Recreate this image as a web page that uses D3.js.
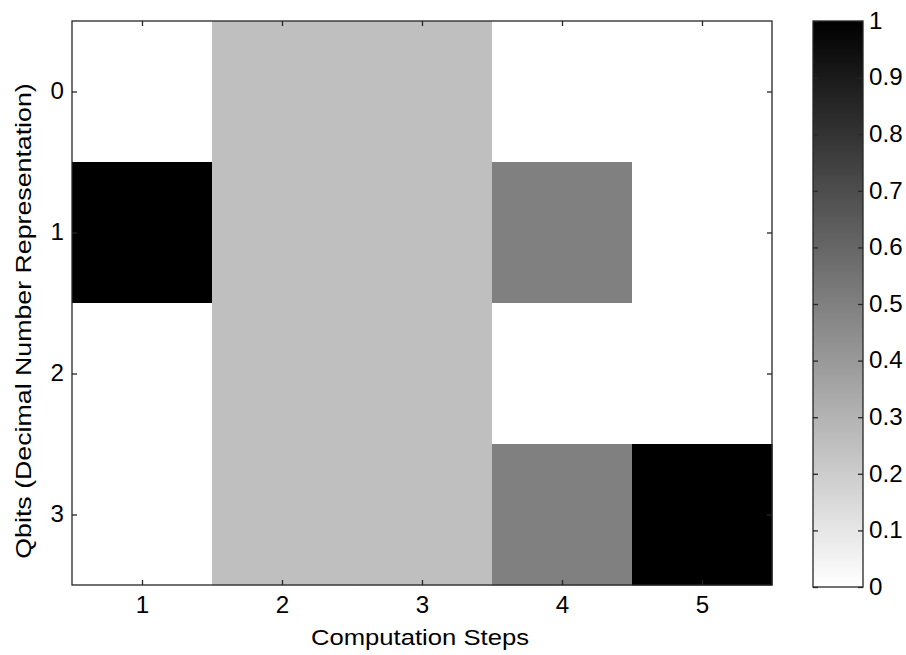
<!DOCTYPE html>
<html><head><meta charset="utf-8">
<script src="https://cdn.jsdelivr.net/npm/d3@7"></script>
<style>body{margin:0;background:#fff;} text{font-family:"Liberation Sans",Arial,sans-serif;}</style>
</head><body>
<svg id="c" width="906" height="655"></svg>
<script>
const steps = [1, 2, 3, 4, 5];
const qbits = [0, 1, 2, 3];
// values per computation step, indexed by qbit
const step1 = [0, 1, 0, 0];
const step2 = [0.25, 0.25, 0.25, 0.25];
const step3 = [0.25, 0.25, 0.25, 0.25];
const step4 = [0, 0.5, 0, 0.5];
const step5 = [0, 0, 0, 1];
const colorTicks = [0, 0.1, 0.2, 0.3, 0.4, 0.5, 0.6, 0.7, 0.8, 0.9, 1];

const series = [step1, step2, step3, step4, step5];
const cells = [];
series.forEach((col, i) => col.forEach((v, j) => cells.push({step: steps[i], q: qbits[j], v})));

const svg = d3.select("#c");
const L = 72, R = 772, T = 21, B = 585;
const x = d3.scaleBand().domain(steps).range([L, R]).padding(0);
const y = d3.scaleBand().domain(qbits).range([T, B]).padding(0);
const color = d3.scaleLinear().domain([0, 1]).range(["#ffffff", "#000000"]);

svg.append("g").selectAll("rect").data(cells).join("rect")
  .attr("x", d => x(d.step)).attr("y", d => y(d.q))
  .attr("width", x.bandwidth() + 0.5).attr("height", y.bandwidth() + 0.5)
  .attr("fill", d => color(d.v));

const xl = d3.scaleLinear().domain([0.5, 5.5]).range([L, R]);
const yl = d3.scaleLinear().domain([-0.5, 3.5]).range([T, B]);
const fs = 23, fsT = 22;
const FF = '"Liberation Sans",Arial,sans-serif';
const gb = svg.append("g").attr("transform", `translate(0,${B})`)
  .call(d3.axisBottom(xl).tickValues(steps).tickSize(-5).tickPadding(12).tickFormat(d3.format("d")));
const gt = svg.append("g").attr("transform", `translate(0,${T})`)
  .call(d3.axisTop(xl).tickValues(steps).tickSize(-5).tickFormat(""));
const gl = svg.append("g").attr("transform", `translate(${L},0)`)
  .call(d3.axisLeft(yl).tickValues(qbits).tickSize(-5).tickPadding(8).tickFormat(d3.format("d")));
const gr = svg.append("g").attr("transform", `translate(${R},0)`)
  .call(d3.axisRight(yl).tickValues(qbits).tickSize(-5).tickFormat(""));
[gb, gt, gl, gr].forEach(g => {
  g.select(".domain").remove();
  g.selectAll("line").attr("stroke", "#262626").attr("stroke-width", 1.3);
  g.selectAll("text").attr("font-size", fs).attr("fill", "#000").style("font-family", FF);
});
svg.append("rect").attr("x", L).attr("y", T).attr("width", R - L).attr("height", B - T)
  .attr("fill", "none").attr("stroke", "#262626").attr("stroke-width", 1.3);

svg.append("text").attr("x", (L + R) / 2 - 2).attr("y", 645).attr("text-anchor", "middle")
  .attr("font-size", fsT).attr("data-k", 1.165).text("Computation Steps");
svg.append("text").attr("transform", `translate(31,${321}) rotate(-90)`).attr("text-anchor", "middle")
  .attr("font-size", fsT).attr("data-k", 1.215).text("Qbits (Decimal Number Representation)");

// colorbar
const CL = 813, CR = 863, CT = 21, CB = 587;
const defs = svg.append("defs");
const grad = defs.append("linearGradient").attr("id", "cb").attr("x1", 0).attr("y1", 1).attr("x2", 0).attr("y2", 0);
colorTicks.forEach(t => grad.append("stop").attr("offset", t).attr("stop-color", color(t)));
svg.append("rect").attr("x", CL).attr("y", CT).attr("width", CR - CL).attr("height", CB - CT).attr("fill", "url(#cb)");
const cy = d3.scaleLinear().domain([0, 1]).range([CB, CT]);
const cr = svg.append("g").attr("transform", `translate(${CR},0)`)
  .call(d3.axisRight(cy).tickValues(colorTicks).tickSize(-5).tickPadding(6).tickFormat(d => d === 0 || d === 1 ? d3.format("d")(d) : d3.format(".1f")(d)));
const cl = svg.append("g").attr("transform", `translate(${CL},0)`)
  .call(d3.axisLeft(cy).tickValues(colorTicks).tickSize(-5).tickFormat(""));
[cr, cl].forEach(g => {
  g.select(".domain").remove();
  g.selectAll("line").attr("stroke", "#262626").attr("stroke-width", 1.3);
  g.selectAll("text").attr("font-size", fs).attr("fill", "#000").style("font-family", FF);
});
svg.append("rect").attr("x", CL).attr("y", CT).attr("width", CR - CL).attr("height", CB - CT)
  .attr("fill", "none").attr("stroke", "#262626").attr("stroke-width", 1.3);

// widen glyphs horizontally to match the reference's wider font
svg.selectAll("text").each(function() {
  const t = d3.select(this);
  if (!t.text()) return;
  const w = this.getComputedTextLength();
  const k = +(t.attr("data-k") || 1.05);
  t.attr("textLength", w * k).attr("lengthAdjust", "spacingAndGlyphs");
});
</script>
</body></html>
